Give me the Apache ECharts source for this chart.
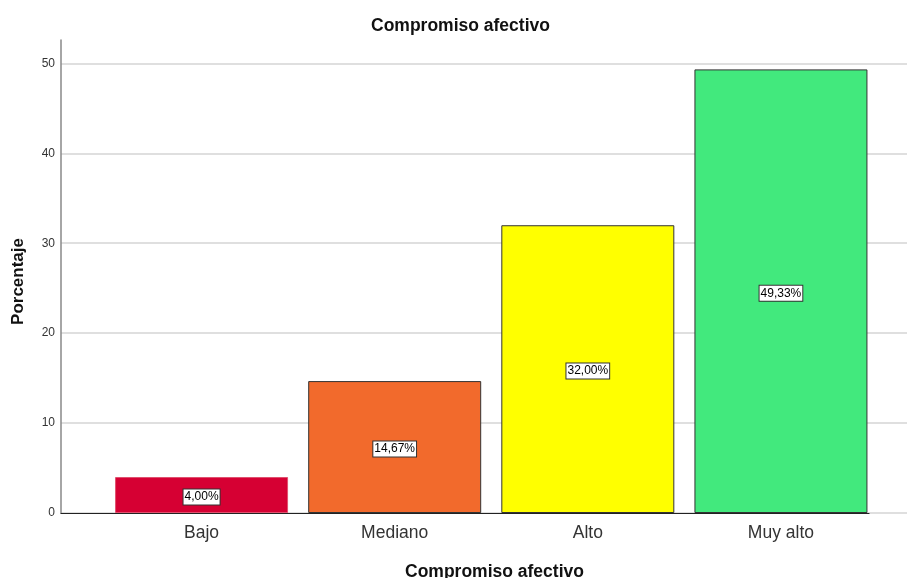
<!DOCTYPE html>
<html>
<head>
<meta charset="utf-8">
<script src="https://cdn.jsdelivr.net/npm/echarts@6/dist/echarts.min.js"></script>
<style>
  html, body { margin: 0; padding: 0; background: #fff; }
  #chart { width: 907px; height: 578px; }
</style>
</head>
<body>
<div id="chart"></div>
<script>
// Compromiso afectivo: distribución porcentual por nivel
const categories = ['Bajo', 'Mediano', 'Alto', 'Muy alto'];
const percentages = [4.00, 14.67, 32.00, 49.33];
const barColors = ['#D60033', '#F26A2C', '#FFFF00', '#42E97D'];
const barBorders = ['#E0506E', '#333333', '#333333', '#333333'];
const yTicks = [0, 10, 20, 30, 40, 50];

const FONT = '"Liberation Sans", Arial, sans-serif';
const yMax = 52.6;

const chart = echarts.init(document.getElementById('chart'), null, { renderer: 'canvas' });

const option = {
  backgroundColor: '#ffffff',
  animation: false,
  title: [
    {
      text: 'Compromiso afectivo',
      left: 366,
      top: 12,
      textStyle: { fontFamily: FONT, fontSize: 17.5, fontWeight: 'bold', color: '#111' }
    },
    {
      text: 'Compromiso afectivo',
      left: 400,
      top: 558,
      textStyle: { fontFamily: FONT, fontSize: 17.5, fontWeight: 'bold', color: '#111' }
    }
  ],
  grid: [
    // frame: value axis, gridlines
    { left: 61, right: 0, top: 40, bottom: 65, containLabel: false },
    // bars
    { left: 105, right: 29.5, top: 40, bottom: 65, containLabel: false },
    // baseline
    { left: 61, right: 38, top: 40, bottom: 65, containLabel: false }
  ],
  xAxis: [
    { gridIndex: 0, type: 'value', show: false, min: 0, max: 1 },
    {
      gridIndex: 1,
      type: 'category',
      data: categories,
      axisLine: { show: false },
      axisTick: { show: false },
      axisLabel: { fontFamily: FONT, fontSize: 17.5, color: '#333', margin: 11 }
    },
    {
      gridIndex: 2,
      type: 'value',
      min: 0,
      max: 1,
      axisLine: { show: true, lineStyle: { color: '#222', width: 1.2 } },
      axisTick: { show: false },
      axisLabel: { show: false },
      splitLine: { show: false }
    }
  ],
  yAxis: [
    {
      gridIndex: 0,
      type: 'value',
      min: 0,
      max: yMax,
      interval: 10,
      name: 'Porcentaje',
      nameLocation: 'middle',
      nameRotate: 90,
      nameGap: 34,
      nameTextStyle: { fontFamily: FONT, fontSize: 17, fontWeight: 'bold', color: '#111', padding: [0, 10, 0, 0] },
      axisLine: { show: true, lineStyle: { color: '#888', width: 1.5 } },
      axisTick: { show: false },
      axisLabel: {
        fontFamily: FONT,
        fontSize: 12,
        color: '#333',
        margin: 6,
        showMaxLabel: false,
        formatter: v => (yTicks.includes(v) ? String(v) : '')
      },
      splitLine: {
        show: true,
        showMinLine: true,
        showMaxLine: false,
        lineStyle: { color: '#d4d4d4', width: 1.5 }
      }
    },
    { gridIndex: 1, type: 'value', min: 0, max: yMax, show: false },
    { gridIndex: 2, type: 'value', min: 0, max: yMax, show: false }
  ],
  series: [
    {
      type: 'bar',
      xAxisIndex: 1,
      yAxisIndex: 1,
      barWidth: 173,
      data: percentages.map((v, i) => ({
        value: v,
        itemStyle: { color: barColors[i], borderColor: barBorders[i], borderWidth: 1 }
      })),
      label: {
        show: true,
        position: 'inside',
        offset: [0, 2],
        formatter: p => p.value.toFixed(2).replace('.', ',') + '%',
        fontFamily: FONT,
        fontSize: 12,
        color: '#000',
        backgroundColor: '#ffffff',
        borderColor: '#333',
        borderWidth: 1,
        padding: [2, 1, 1, 1]
      }
    }
  ]
};

chart.setOption(option);
</script>
</body>
</html>
